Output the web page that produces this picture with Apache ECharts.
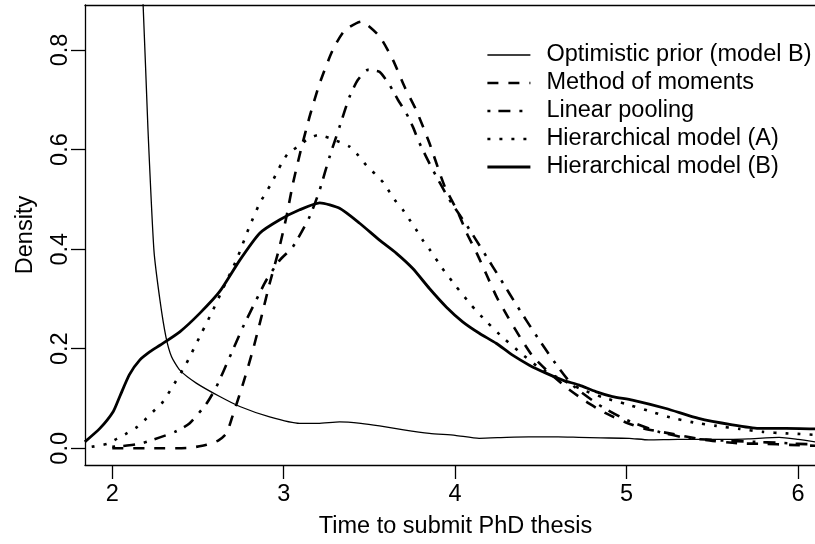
<!DOCTYPE html>
<html>
<head>
<meta charset="utf-8">
<script src="https://cdn.jsdelivr.net/npm/echarts@6/dist/echarts.min.js"></script>
<style>
html,body{margin:0;padding:0;background:#fff;}
#chart{width:815px;height:544px;}
</style>
</head>
<body>
<div id="chart"></div>
<script>
// ---- data ----
const xTicks = [2, 3, 4, 5, 6];
const yTicks = [0, 0.2, 0.4, 0.6, 0.8];

const priorX = [2.165, 2.18, 2.208, 2.243, 2.278, 2.313, 2.346, 2.394, 2.49, 2.627, 2.744, 2.918, 3.093, 3.2, 3.326, 3.45, 3.559, 3.7, 3.85, 4.0, 4.14, 4.3, 4.43, 4.6, 4.72, 4.85, 5.015, 5.13, 5.3, 5.42, 5.6, 5.71, 5.89, 6.0, 6.1];
const priorY = [0.95, 0.89, 0.643, 0.398, 0.298, 0.224, 0.184, 0.157, 0.131, 0.104, 0.084, 0.063, 0.050, 0.050, 0.053, 0.050, 0.045, 0.037, 0.030, 0.026, 0.020, 0.022, 0.023, 0.023, 0.022, 0.021, 0.020, 0.017, 0.018, 0.018, 0.018, 0.019, 0.022, 0.018, 0.013];

const momX = [2.0, 2.1, 2.2, 2.3, 2.45, 2.55, 2.62, 2.666, 2.70, 2.763, 2.82, 2.87, 2.918, 2.971, 3.016, 3.054, 3.10, 3.151, 3.21, 3.286, 3.355, 3.452, 3.559, 3.637, 3.705, 3.773, 3.85, 3.918, 3.944, 4.015, 4.068, 4.126, 4.184, 4.242, 4.309, 4.379, 4.45, 4.533, 4.646, 4.763, 4.875, 4.996, 5.10, 5.265, 5.46, 5.655, 5.81, 5.95, 6.1];
const momY = [0.0, 0.0, 0.0, 0.0, 0.001, 0.007, 0.016, 0.030, 0.063, 0.13, 0.197, 0.264, 0.331, 0.398, 0.465, 0.532, 0.599, 0.666, 0.733, 0.80, 0.839, 0.857, 0.827, 0.780, 0.726, 0.679, 0.613, 0.545, 0.522, 0.475, 0.432, 0.392, 0.348, 0.304, 0.263, 0.223, 0.186, 0.157, 0.123, 0.094, 0.071, 0.052, 0.040, 0.029, 0.017, 0.010, 0.009, 0.007, 0.005];

const poolX = [2.0, 2.1, 2.18, 2.278, 2.365, 2.45, 2.55, 2.608, 2.686, 2.763, 2.84, 2.899, 2.977, 3.054, 3.151, 3.21, 3.268, 3.326, 3.384, 3.433, 3.491, 3.559, 3.617, 3.666, 3.715, 3.753, 3.792, 3.87, 3.967, 4.073, 4.17, 4.268, 4.365, 4.47, 4.578, 4.685, 4.84, 5.0, 5.19, 5.364, 5.55, 5.74, 5.9, 6.0, 6.1];
const poolY = [0.003, 0.006, 0.011, 0.022, 0.033, 0.05, 0.09, 0.124, 0.184, 0.244, 0.298, 0.338, 0.378, 0.405, 0.465, 0.519, 0.586, 0.646, 0.706, 0.740, 0.760, 0.756, 0.73, 0.70, 0.673, 0.646, 0.613, 0.559, 0.499, 0.445, 0.392, 0.338, 0.284, 0.228, 0.174, 0.127, 0.087, 0.057, 0.033, 0.020, 0.016, 0.013, 0.011, 0.009, 0.008];

const hierAX = [1.88, 1.97, 2.026, 2.084, 2.142, 2.19, 2.239, 2.288, 2.336, 2.433, 2.52, 2.588, 2.646, 2.724, 2.80, 2.86, 2.928, 2.987, 3.025, 3.083, 3.132, 3.20, 3.268, 3.384, 3.433, 3.48, 3.53, 3.578, 3.617, 3.656, 3.695, 3.734, 3.773, 3.811, 3.85, 3.924, 4.006, 4.093, 4.184, 4.28, 4.384, 4.49, 4.617, 4.734, 4.864, 4.996, 5.122, 5.254, 5.39, 5.524, 5.66, 5.795, 5.93, 6.0, 6.1];
const hierAY = [0.003, 0.009, 0.019, 0.03, 0.042, 0.057, 0.074, 0.09, 0.115, 0.171, 0.231, 0.278, 0.321, 0.378, 0.445, 0.492, 0.532, 0.572, 0.592, 0.606, 0.619, 0.629, 0.623, 0.606, 0.589, 0.569, 0.552, 0.535, 0.515, 0.495, 0.479, 0.459, 0.439, 0.418, 0.40, 0.362, 0.325, 0.288, 0.254, 0.222, 0.191, 0.162, 0.139, 0.119, 0.102, 0.089, 0.076, 0.062, 0.052, 0.045, 0.039, 0.033, 0.030, 0.029, 0.027];

const hierBX = [1.84, 1.928, 2.006, 2.045, 2.10, 2.16, 2.22, 2.278, 2.394, 2.51, 2.627, 2.744, 2.86, 2.977, 3.093, 3.21, 3.326, 3.443, 3.559, 3.656, 3.753, 3.85, 3.948, 4.044, 4.141, 4.239, 4.335, 4.433, 4.53, 4.627, 4.724, 4.82, 4.918, 5.034, 5.23, 5.42, 5.617, 5.77, 5.93, 6.1];
const hierBY = [0.013, 0.040, 0.074, 0.105, 0.148, 0.177, 0.194, 0.207, 0.234, 0.271, 0.315, 0.378, 0.432, 0.459, 0.479, 0.493, 0.482, 0.452, 0.418, 0.392, 0.361, 0.321, 0.284, 0.254, 0.231, 0.211, 0.187, 0.167, 0.151, 0.137, 0.127, 0.114, 0.104, 0.097, 0.080, 0.060, 0.047, 0.040, 0.040, 0.039];

const names = ['Optimistic prior (model B)', 'Method of moments', 'Linear pooling', 'Hierarchical model (A)', 'Hierarchical model (B)'];

// ---- chart ----
const FONT = '"Liberation Sans", Arial, Helvetica, sans-serif';
const FS = 23.5;
const zip = (xs, ys) => xs.map((x, i) => [x, ys[i]]);

const styles = [
  {width: 1.3, type: 'solid'},
  {width: 2.6, type: [11, 10]},
  {width: 2.6, type: [3, 8, 12, 9]},
  {width: 2.6, type: [3, 9]},
  {width: 2.8, type: 'solid'}
];
const datasets = [zip(priorX, priorY), zip(momX, momY), zip(poolX, poolY), zip(hierAX, hierAY), zip(hierBX, hierBY)];
const frameLine = {show: true, onZero: false, lineStyle: {color: '#000', width: 1.3}};

const chart = echarts.init(document.getElementById('chart'), null, {renderer: 'canvas'});
chart.setOption({
  animation: false,
  backgroundColor: '#fff',
  textStyle: {fontFamily: FONT, color: '#000'},
  grid: {left: 85, top: 5, right: 0, bottom: 79, show: false},
  legend: {
    orient: 'vertical', left: 481, top: 38,
    itemWidth: 43, itemHeight: 14, itemGap: 4,
    itemStyle: {opacity: 0},
    textStyle: {fontFamily: FONT, fontSize: FS, color: '#000', lineHeight: 24, padding: [0, 0, 0, 11]},
    data: names.map((n, i) => ({name: n, lineStyle: {width: styles[i].width, type: styles[i].type, color: '#000'}}))
  },
  xAxis: [{
    type: 'value', min: 1.841, max: 6.099, position: 'bottom',
    name: 'Time to submit PhD thesis', nameLocation: 'middle', nameGap: 50,
    nameTextStyle: {fontFamily: FONT, fontSize: FS, color: '#000', padding: [0, 0, 0, 11]},
    axisLine: frameLine,
    splitLine: {show: false},
    axisTick: {show: true, inside: false, length: 14, customValues: xTicks, lineStyle: {color: '#000', width: 1.3}},
    axisLabel: {customValues: xTicks, margin: 18, fontSize: FS, fontFamily: FONT, color: '#000', formatter: v => String(v)}
  }, {
    type: 'value', min: 1.841, max: 6.099, position: 'top',
    axisLine: frameLine, axisTick: {show: false}, axisLabel: {show: false}, splitLine: {show: false}
  }],
  yAxis: {
    type: 'value', min: -0.0335, max: 0.8903,
    name: 'Density', nameLocation: 'middle', nameGap: 47,
    nameTextStyle: {fontFamily: FONT, fontSize: FS, color: '#000'},
    axisLine: frameLine,
    splitLine: {show: false},
    axisTick: {show: true, inside: false, length: 14, customValues: yTicks, lineStyle: {color: '#000', width: 1.3}},
    axisLabel: {customValues: yTicks, rotate: 90, margin: 12, fontSize: FS, fontFamily: FONT, color: '#000', formatter: v => v.toFixed(1)}
  },
  series: names.map((n, i) => ({
    name: n, type: 'line', data: datasets[i], xAxisIndex: 0,
    showSymbol: false, symbol: 'none', smooth: 0.2, clip: true,
    lineStyle: {color: '#000', width: styles[i].width, type: styles[i].type, cap: 'butt', join: 'round'},
    itemStyle: {color: '#000'}
  }))
});
</script>
</body>
</html>
